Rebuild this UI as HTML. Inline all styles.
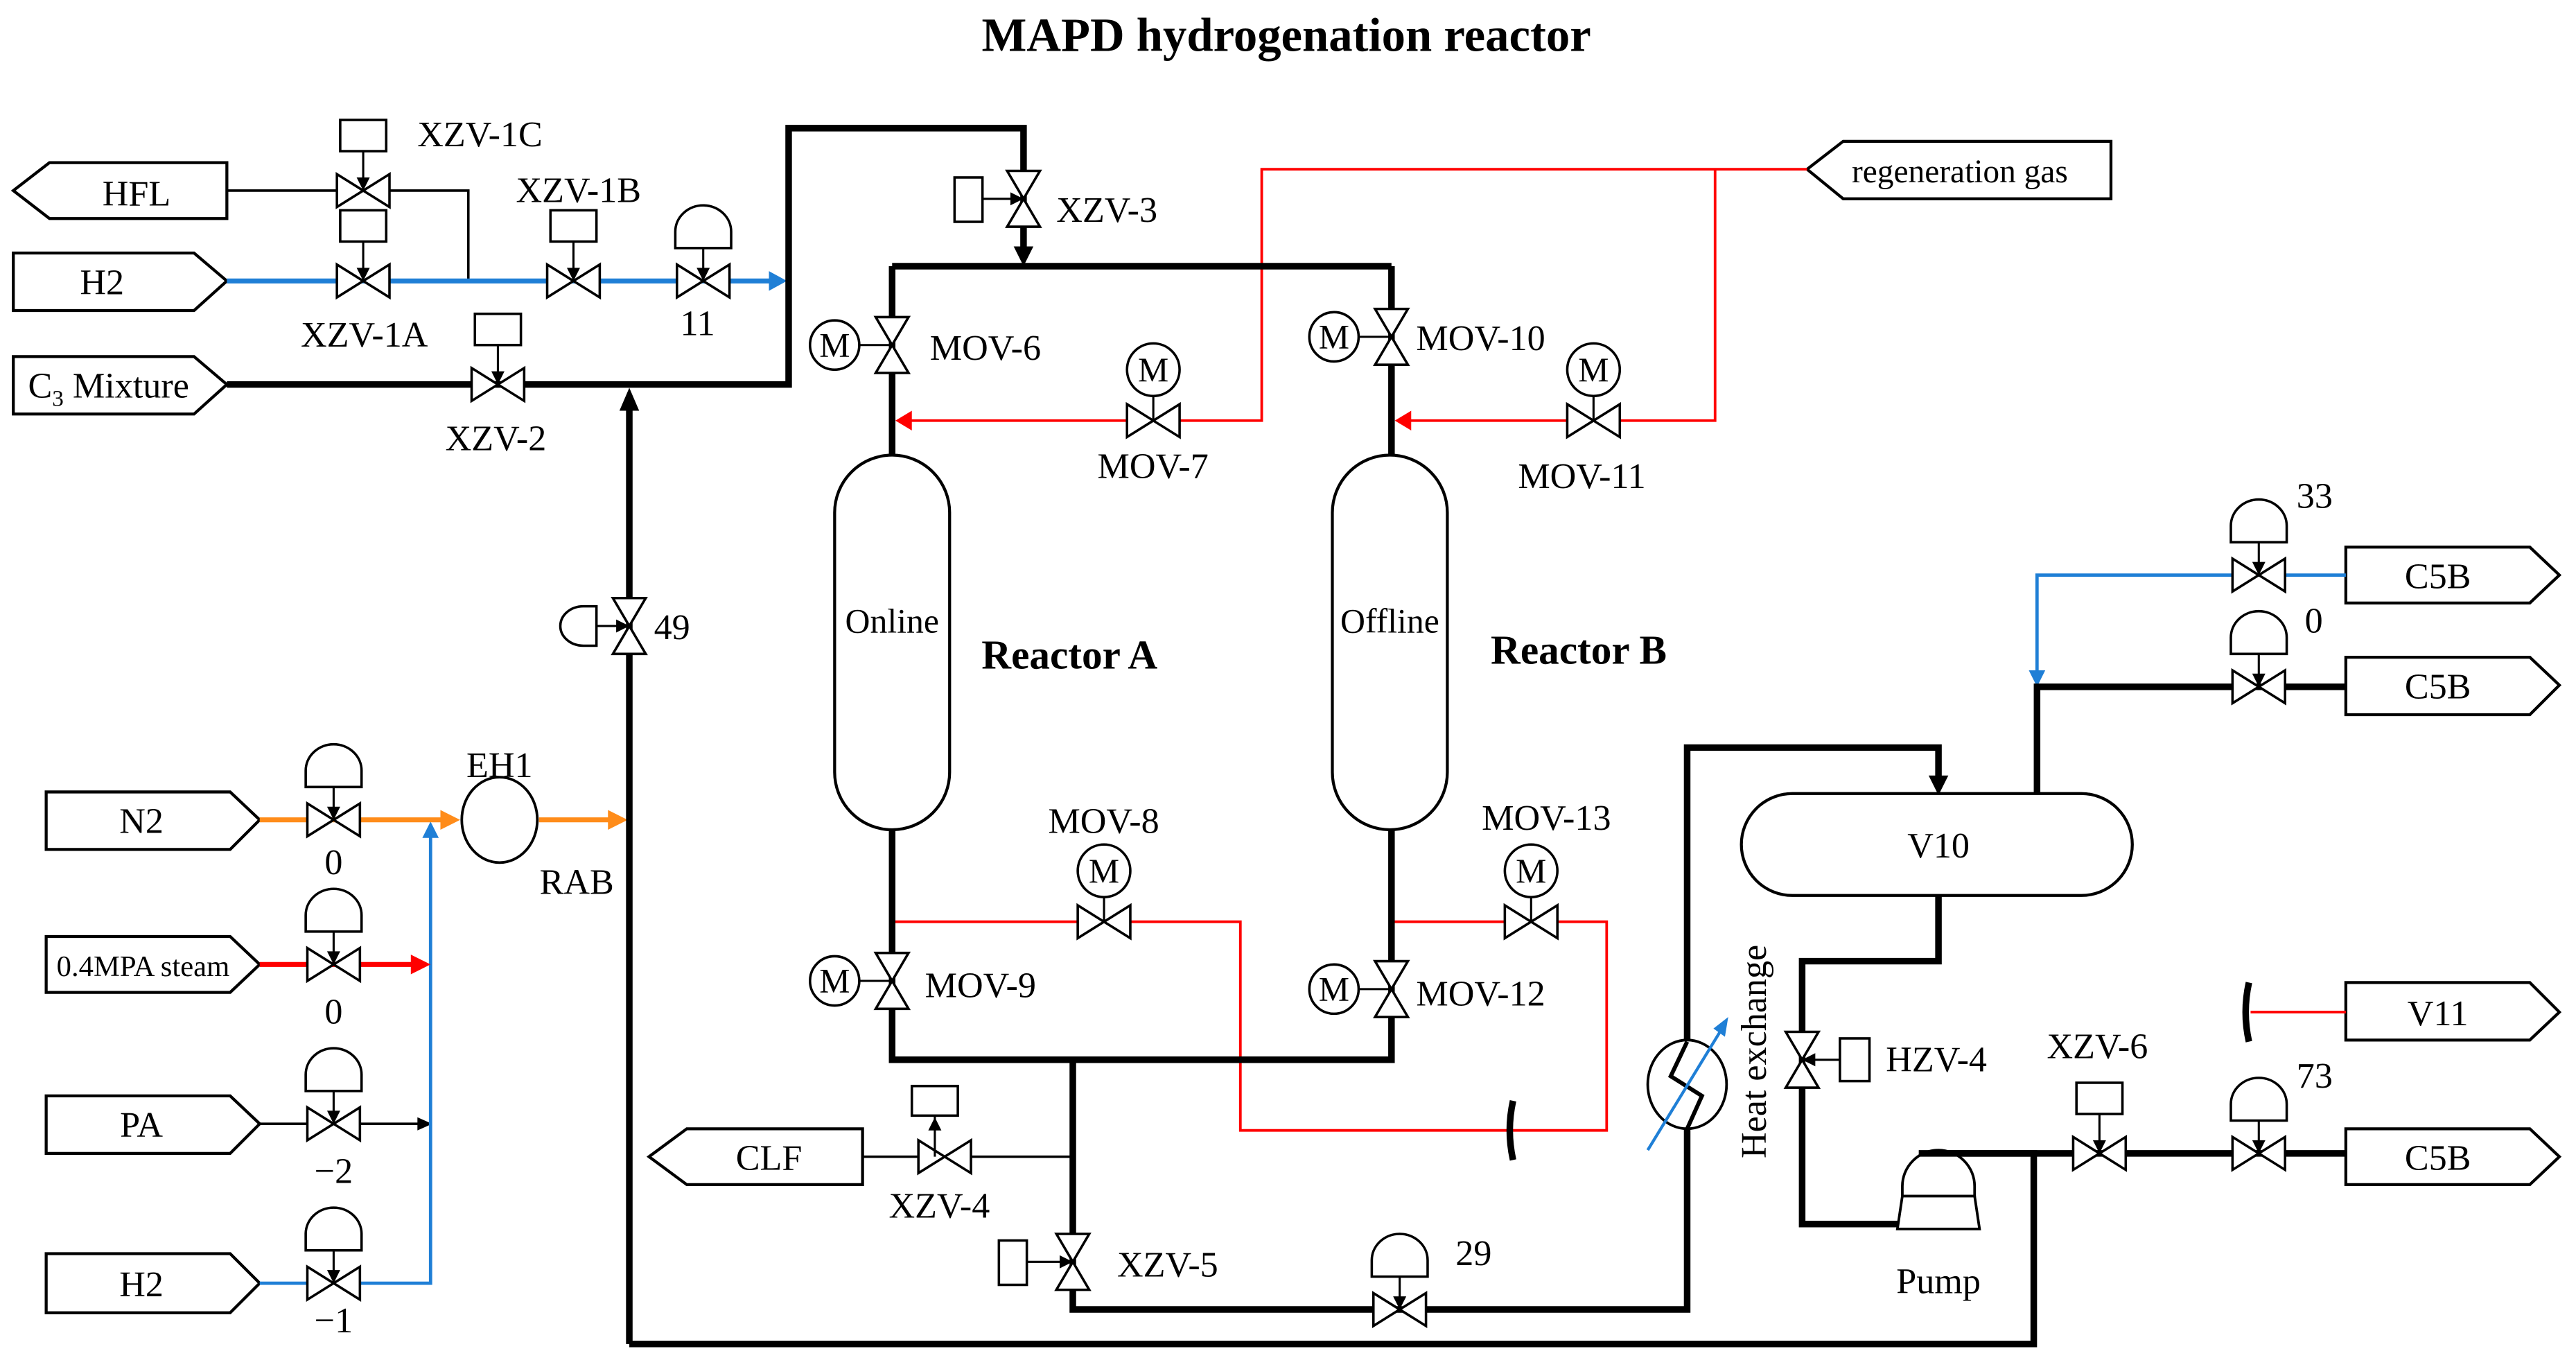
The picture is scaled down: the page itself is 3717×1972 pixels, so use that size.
<!DOCTYPE html>
<html><head><meta charset="utf-8"><style>html,body{margin:0;padding:0;background:#fff}svg{display:block}</style></head>
<body>
<svg width="3717" height="1972" viewBox="0 0 1568 832" xmlns="http://www.w3.org/2000/svg" font-family="Liberation Serif, serif" font-size="22">
<defs>
<path id="vh" d="M-16,-10 L16,10 L16,-10 L-16,10 Z" fill="#fff" stroke="#000" stroke-width="1.5"/>
<path id="vv" d="M-10,-17 L10,17 L-10,17 L10,-17 Z" fill="#fff" stroke="#000" stroke-width="1.5"/>
<g id="dome"><path d="M-17,-20 L-17,-30 A17,16 0 0 1 17,-30 L17,-20 Z" fill="#fff" stroke="#000" stroke-width="1.5"/><line x1="0" y1="-20" x2="0" y2="-6" stroke="#000" stroke-width="1.3"/><path d="M-4,-8 L4,-8 L0,0 Z"/></g>
<g id="sq"><rect x="-14" y="-43" width="28" height="19" fill="#fff" stroke="#000" stroke-width="1.5"/><line x1="0" y1="-24" x2="0" y2="-6" stroke="#000" stroke-width="1.3"/><path d="M-4,-8 L4,-8 L0,0 Z"/></g>
<g id="mtop"><circle cx="0" cy="-31" r="16" fill="#fff" stroke="#000" stroke-width="1.5"/><text x="0" y="-24" text-anchor="middle" font-size="21">M</text><line x1="0" y1="-15" x2="0" y2="0" stroke="#000" stroke-width="1.3"/></g>
<g id="mleft"><circle cx="-35" cy="0" r="15" fill="#fff" stroke="#000" stroke-width="1.5"/><text x="-35" y="7" text-anchor="middle" font-size="21">M</text><line x1="-20" y1="0" x2="0" y2="0" stroke="#000" stroke-width="1.3"/></g>
</defs>

<text x="783" y="31" text-anchor="middle" font-size="29" font-weight="bold">MAPD hydrogenation reactor</text>

<g fill="#fff" stroke="#000" stroke-width="1.8">
<path d="M8,116 L30,99 L138,99 L138,133 L30,133 Z"/>
<path d="M8,154 L118,154 L138,171 L118,189 L8,189 Z"/>
<path d="M8,217 L118,217 L138,234 L118,252 L8,252 Z"/>
<path d="M1100,103 L1122,86 L1285,86 L1285,121 L1122,121 Z"/>
<path d="M1428,333 L1540,333 L1558,350 L1540,367 L1428,367 Z"/>
<path d="M1428,400 L1540,400 L1558,417 L1540,435 L1428,435 Z"/>
<path d="M1428,598 L1540,598 L1558,616 L1540,633 L1428,633 Z"/>
<path d="M1428,687 L1540,687 L1558,704 L1540,721 L1428,721 Z"/>
<path d="M395,704 L418,687 L525,687 L525,721 L418,721 Z"/>
<path d="M28,482 L140,482 L158,499 L140,517 L28,517 Z"/>
<path d="M28,570 L140,570 L158,587 L140,604 L28,604 Z"/>
<path d="M28,667 L140,667 L158,684 L140,702 L28,702 Z"/>
<path d="M28,763 L140,763 L158,781 L140,799 L28,799 Z"/>
</g>
<g text-anchor="middle" font-size="22">
<text x="83" y="125">HFL</text><text x="62" y="179">H2</text>
<text x="66" y="242">C<tspan font-size="14" dy="5">3</tspan><tspan dy="-5"> Mixture</tspan></text>
<text x="1193" y="111" font-size="20">regeneration gas</text>
<text x="1484" y="358">C5B</text><text x="1484" y="425">C5B</text><text x="1484" y="624">V11</text><text x="1484" y="712">C5B</text>
<text x="468" y="712">CLF</text>
<text x="86" y="507">N2</text><text x="87" y="594" font-size="18">0.4MPA steam</text><text x="86" y="692">PA</text><text x="86" y="789">H2</text>
</g>

<g fill="none" stroke="#000" stroke-width="1.5">
<path d="M138,116 L285,116 L285,171"/>
<path d="M525,704 L653,704"/>
<path d="M158,684 L256,684"/>
</g>
<path d="M254,680 L263,684 L254,688 Z"/>
<path d="M138,171 L470,171" fill="none" stroke="#1f7fd6" stroke-width="3"/>
<path d="M468,165 L479,171 L468,177 Z" fill="#1f7fd6"/>
<path d="M1428,350 L1240,350 L1240,410" fill="none" stroke="#1f7fd6" stroke-width="2"/>
<path d="M1235,408 L1240,418 L1245,408 Z" fill="#1f7fd6"/>
<path d="M158,781 L262,781 L262,508" fill="none" stroke="#1f7fd6" stroke-width="2"/>
<path d="M257,510 L262,500 L267,510 Z" fill="#1f7fd6"/>
<path d="M158,499 L270,499 M328,499 L372,499" fill="none" stroke="#ff8c1a" stroke-width="3"/>
<path d="M268,493 L280,499 L268,505 Z M370,493 L382,499 L370,505 Z" fill="#ff8c1a"/>
<path d="M158,587 L252,587" stroke="#f00" stroke-width="3"/>
<path d="M250,581 L262,587 L250,593 Z" fill="#f00"/>
<g fill="none" stroke="#f00" stroke-width="1.6">
<path d="M1100,103 L768,103 L768,256 L553,256"/>
<path d="M1044,103 L1044,256 L857,256"/>
<path d="M543,561 L755,561 L755,688 L978,688 L978,561 L847,561"/>
<path d="M1428,616 L1370,616"/>
</g>
<path d="M555,250 L545,256 L555,262 Z M859,250 L849,256 L859,262 Z" fill="#f00"/>

<g fill="none" stroke="#000" stroke-width="4">
<path d="M138,234 L480,234 L480,78 L623,78 L623,150"/>
<path d="M383,818 L383,250"/>
<path d="M543,162 L847,162"/>
<path d="M543,162 L543,277 M847,162 L847,277"/>
<path d="M543,505 L543,645 L847,645 L847,505"/>
<path d="M653,645 L653,797 L1027,797 L1027,455 L1180,455 L1180,473"/>
<path d="M1240,483 L1240,418 L1428,418"/>
<path d="M1180,545 L1180,585 L1097,585 L1097,745 L1157,745"/>
<path d="M1180,702 L1428,702"/>
<path d="M1238,702 L1238,818 L383,818"/>
</g>
<path d="M377,250 L383,236 L389,250 Z M617,150 L623,162 L629,150 Z M1174,472 L1180,484 L1186,472 Z"/>

<rect x="508" y="277" width="70" height="228" rx="35" ry="35" fill="#fff" stroke="#000" stroke-width="1.8"/>
<rect x="811" y="277" width="70" height="228" rx="35" ry="35" fill="#fff" stroke="#000" stroke-width="1.8"/>
<rect x="1060" y="483" width="238" height="62" rx="31" ry="31" fill="#fff" stroke="#000" stroke-width="1.8"/>
<text x="543" y="385" text-anchor="middle" font-size="21">Online</text>
<text x="846" y="385" text-anchor="middle" font-size="21">Offline</text>
<text x="651" y="407" text-anchor="middle" font-weight="bold" font-size="25">Reactor A</text>
<text x="961" y="404" text-anchor="middle" font-weight="bold" font-size="25">Reactor B</text>
<text x="1180" y="522" text-anchor="middle">V10</text>

<ellipse cx="304" cy="499" rx="23" ry="26" fill="#fff" stroke="#000" stroke-width="1.6"/>
<text x="304" y="473" text-anchor="middle">EH1</text>
<text x="351" y="544" text-anchor="middle">RAB</text>

<ellipse cx="1027" cy="660" rx="24" ry="27" fill="#fff" stroke="#000" stroke-width="1.6"/>
<path d="M1027,634 L1017,655 L1036,667 L1027,687" fill="none" stroke="#000" stroke-width="2.5"/>
<path d="M1003,700 L1047,628" stroke="#1f7fd6" stroke-width="1.8"/>
<path d="M1043,626 L1052,619 L1050,631 Z" fill="#1f7fd6"/>
<text transform="translate(1075,640) rotate(-90)" text-anchor="middle">Heat exchange</text>

<path d="M1158,728 L1158,722 A22,22 0 0 1 1202,722 L1202,728 Z" fill="#fff" stroke="#000" stroke-width="1.6"/>
<path d="M1158,728 L1202,728 L1205,748 L1155,748 Z" fill="#fff" stroke="#000" stroke-width="1.6"/>
<path d="M1168,702 L1240,702" stroke="#000" stroke-width="4"/>
<text x="1180" y="787" text-anchor="middle">Pump</text>

<path d="M921,670 Q917,688 921,706" fill="none" stroke="#000" stroke-width="4"/>
<path d="M1369,598 Q1365,616 1369,634" fill="none" stroke="#000" stroke-width="4"/>

<use href="#sq" x="221" y="116"/><use href="#vh" x="221" y="116"/>
<use href="#sq" x="221" y="171"/><use href="#vh" x="221" y="171"/>
<use href="#sq" x="349" y="171"/><use href="#vh" x="349" y="171"/>
<use href="#dome" x="428" y="171"/><use href="#vh" x="428" y="171"/>
<use href="#sq" x="303" y="234"/><use href="#vh" x="303" y="234"/>
<text x="254" y="89">XZV-1C</text><text x="183" y="211">XZV-1A</text><text x="314" y="123">XZV-1B</text><text x="414" y="204">11</text><text x="271" y="274">XZV-2</text>

<use href="#vv" x="623" y="121"/>
<rect x="581" y="108" width="17" height="27" fill="#fff" stroke="#000" stroke-width="1.5"/>
<line x1="598" y1="121" x2="617" y2="121" stroke="#000" stroke-width="1.3"/><path d="M615,117 L615,125 L623,121 Z"/>
<text x="643" y="135">XZV-3</text>

<use href="#vv" x="383" y="381"/>
<path d="M363,369 L355,369 A14,12 0 0 0 355,393 L363,393 Z" fill="#fff" stroke="#000" stroke-width="1.5"/>
<line x1="363" y1="381" x2="377" y2="381" stroke="#000" stroke-width="1.3"/><path d="M375,377 L375,385 L383,381 Z"/>
<text x="398" y="389">49</text>

<use href="#mleft" x="543" y="210"/><use href="#vv" x="543" y="210"/><text x="566" y="219">MOV-6</text>
<use href="#mleft" x="847" y="205"/><use href="#vv" x="847" y="205"/><text x="862" y="213">MOV-10</text>
<use href="#mtop" x="702" y="256"/><use href="#vh" x="702" y="256"/><text x="668" y="291">MOV-7</text>
<use href="#mtop" x="970" y="256"/><use href="#vh" x="970" y="256"/><text x="924" y="297">MOV-11</text>
<use href="#mleft" x="543" y="597"/><use href="#vv" x="543" y="597"/><text x="563" y="607">MOV-9</text>
<use href="#mleft" x="847" y="602"/><use href="#vv" x="847" y="602"/><text x="862" y="612">MOV-12</text>
<use href="#mtop" x="672" y="561"/><use href="#vh" x="672" y="561"/><text x="638" y="507">MOV-8</text>
<use href="#mtop" x="932" y="561"/><use href="#vh" x="932" y="561"/><text x="902" y="505">MOV-13</text>

<use href="#vh" x="575" y="704"/>
<rect x="555" y="661" width="28" height="18" fill="#fff" stroke="#000" stroke-width="1.5"/>
<line x1="569" y1="679" x2="569" y2="704" stroke="#000" stroke-width="1.3"/><path d="M565,688 L573,688 L569,680 Z"/>
<text x="541" y="741">XZV-4</text>

<use href="#vv" x="653" y="768"/>
<rect x="608" y="755" width="17" height="27" fill="#fff" stroke="#000" stroke-width="1.5"/>
<line x1="625" y1="768" x2="647" y2="768" stroke="#000" stroke-width="1.3"/><path d="M645,764 L645,772 L653,768 Z"/>
<text x="680" y="777">XZV-5</text>

<use href="#dome" x="852" y="797"/><use href="#vh" x="852" y="797"/><text x="886" y="770">29</text>

<use href="#vv" x="1097" y="645"/>
<rect x="1120" y="632" width="18" height="26" fill="#fff" stroke="#000" stroke-width="1.5"/>
<line x1="1120" y1="645" x2="1103" y2="645" stroke="#000" stroke-width="1.3"/><path d="M1105,641 L1105,649 L1097,645 Z"/>
<text x="1148" y="652">HZV-4</text>

<use href="#sq" x="1278" y="702"/><use href="#vh" x="1278" y="702"/><text x="1246" y="644">XZV-6</text>
<use href="#dome" x="1375" y="702"/><use href="#vh" x="1375" y="702"/><text x="1398" y="662">73</text>
<use href="#dome" x="1375" y="350"/><use href="#vh" x="1375" y="350"/><text x="1398" y="309">33</text>
<use href="#dome" x="1375" y="418"/><use href="#vh" x="1375" y="418"/><text x="1403" y="385">0</text>

<use href="#dome" x="203" y="499"/><use href="#vh" x="203" y="499"/><text x="203" y="532" text-anchor="middle">0</text>
<use href="#dome" x="203" y="587"/><use href="#vh" x="203" y="587"/><text x="203" y="623" text-anchor="middle">0</text>
<use href="#dome" x="203" y="684"/><use href="#vh" x="203" y="684"/><text x="203" y="720" text-anchor="middle">−2</text>
<use href="#dome" x="203" y="781"/><use href="#vh" x="203" y="781"/><text x="203" y="811" text-anchor="middle">−1</text>
</svg>
</body></html>
